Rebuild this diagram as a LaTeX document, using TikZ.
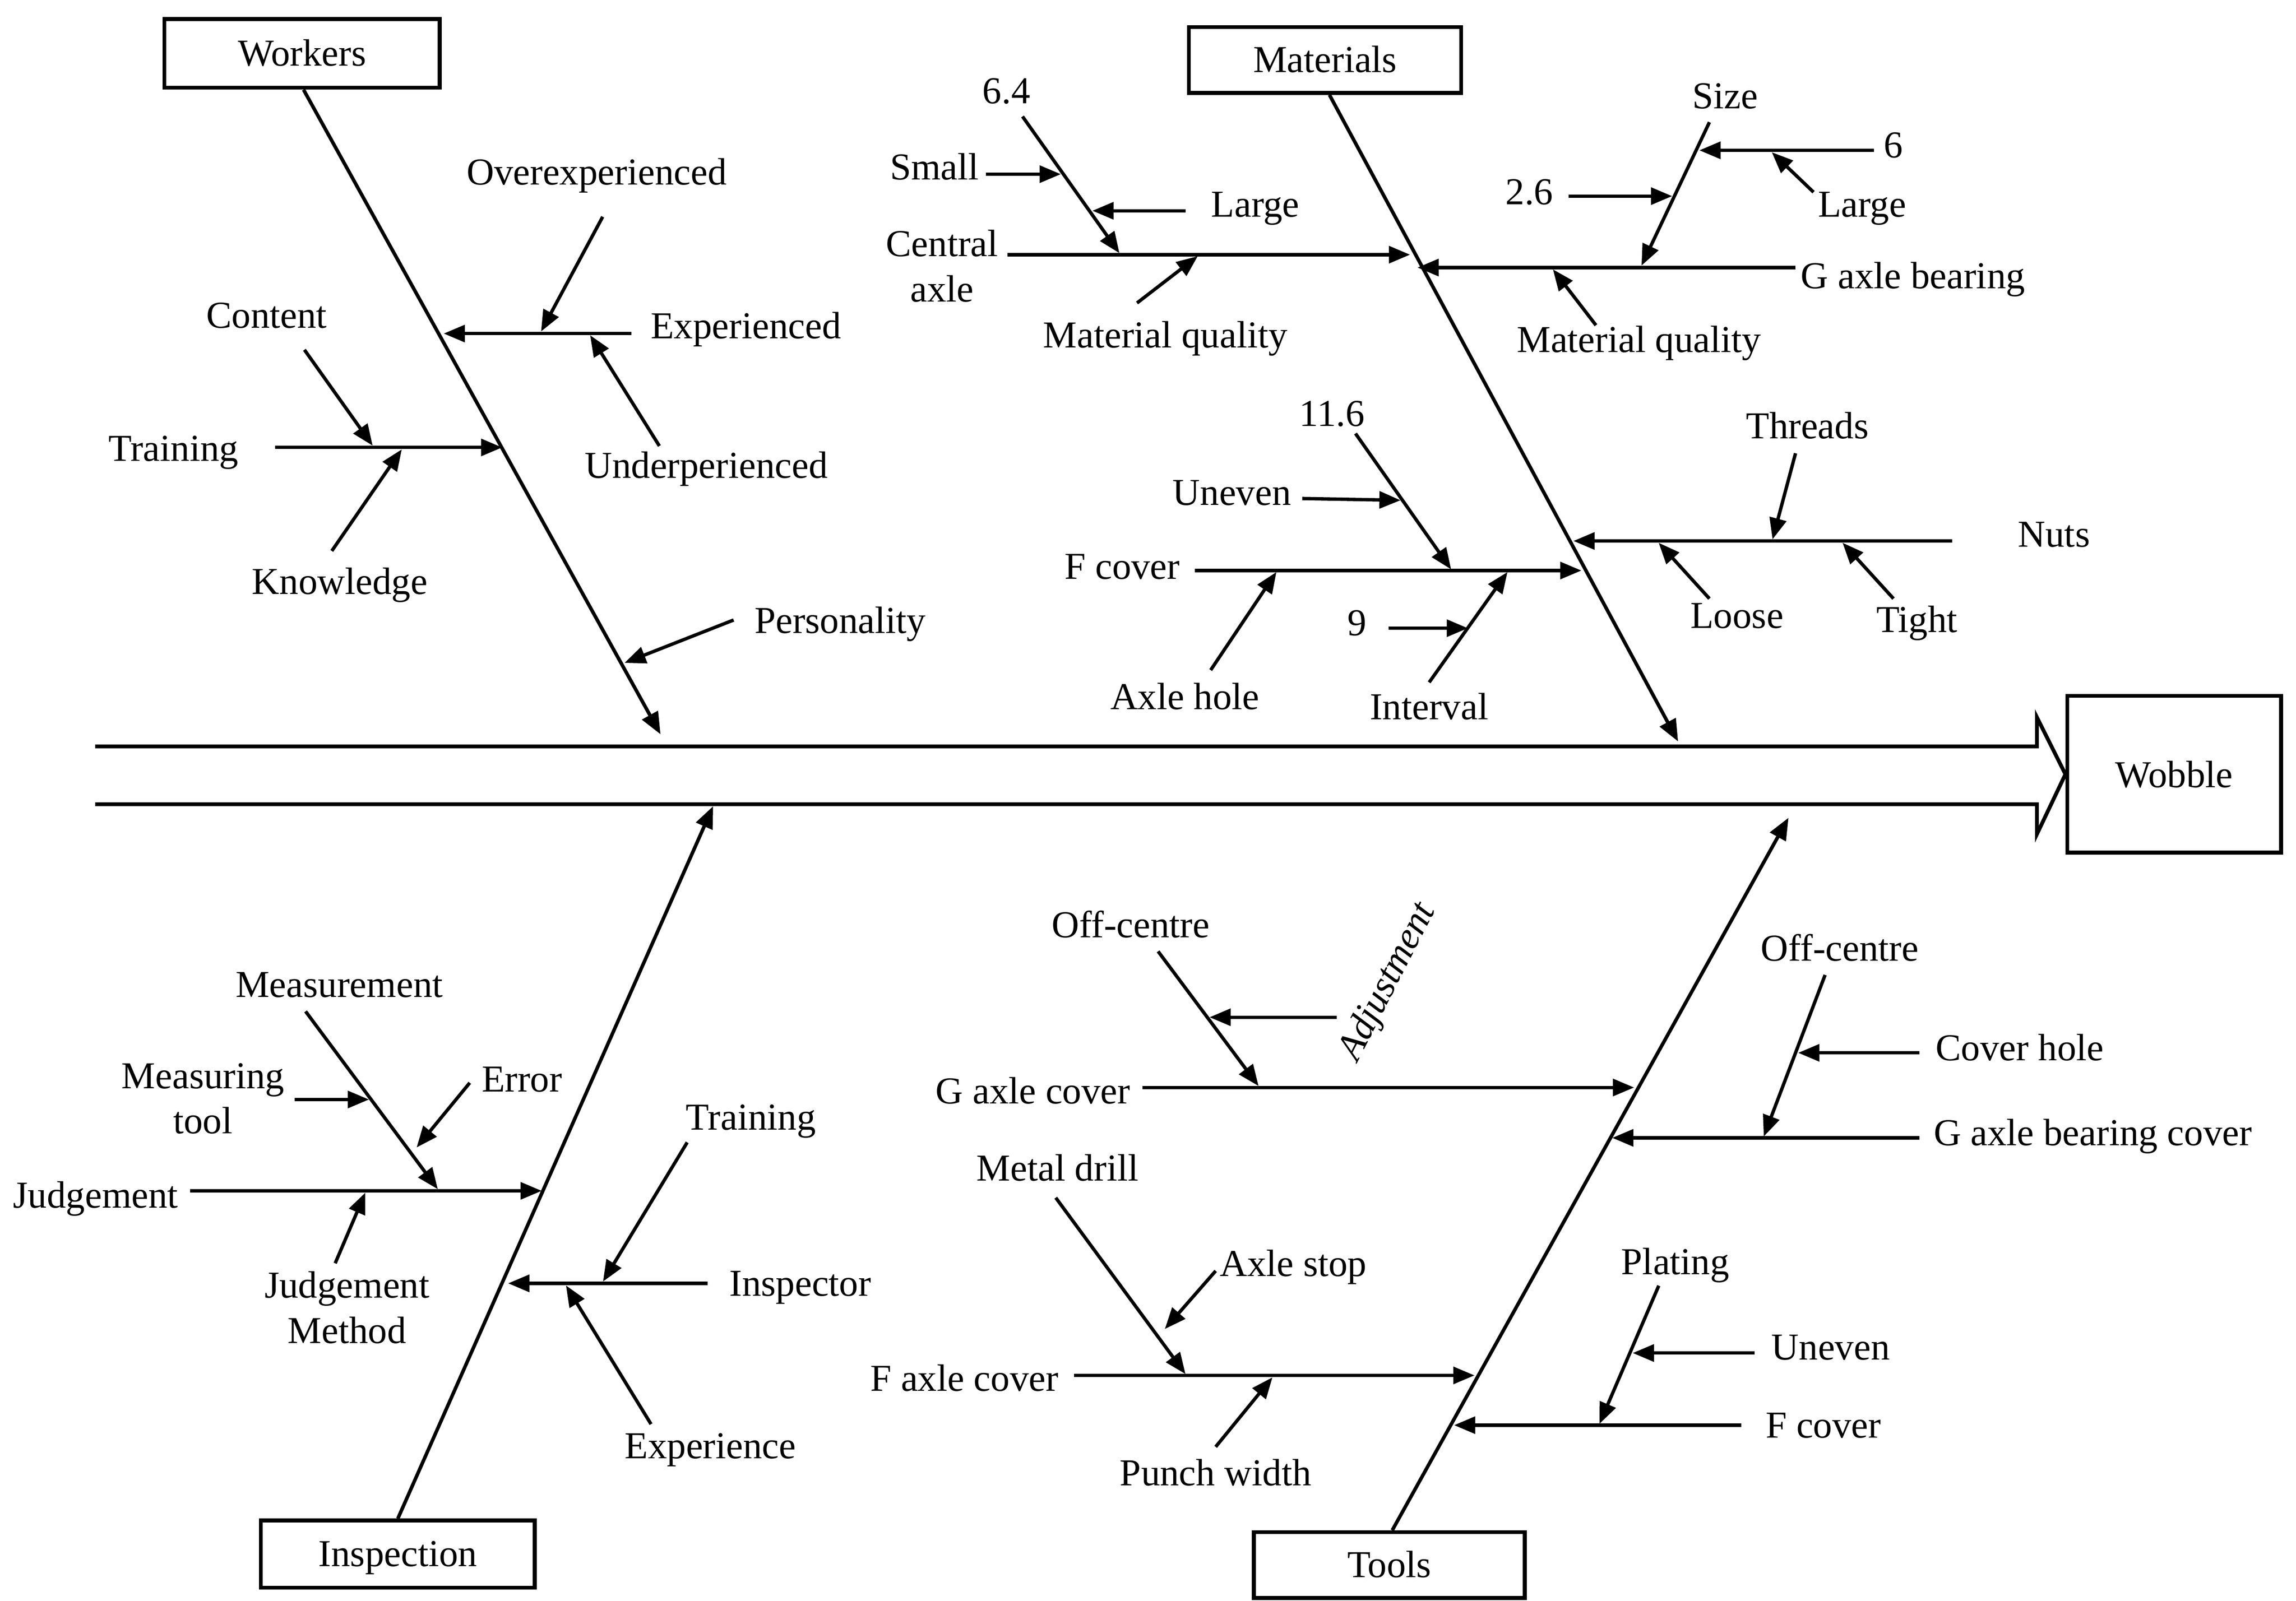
\documentclass[tikz,border=0pt]{standalone}
\usepackage{fontspec}
\setmainfont{Liberation Serif}
\usetikzlibrary{arrows.meta,calc}
\begin{document}
\begin{tikzpicture}[x=1pt,y=-1pt,
  every node/.style={font=\fontsize{26}{31}\selectfont},
  lbl/.style={inner sep=0pt, text height=17pt, text depth=0pt},
  lbltwo/.style={inner sep=0pt, align=center},
  catbox/.style={draw, line width=2.6pt, inner sep=0pt, text height=17pt, text depth=0pt},
  bone/.style={line width=2.4pt, -{Triangle[length=15pt,width=12pt]}},
  arr/.style={line width=2.3pt, -{Triangle[length=14.5pt,width=11.5pt]}},
  spine/.style={line width=2.6pt, line join=miter}
]
\useasboundingbox (0,0) rectangle (1568,1093.7);

% ---------------- effect and spine ----------------
\node[draw, line width=2.6pt, minimum width=146pt, minimum height=107pt, inner sep=0pt] (wobble) at (1484.8,529) {Wobble};
\coordinate (spineTop) at (65,510);
\coordinate (spineBot) at (65,549.5);
\draw[spine] (spineTop) -- (1391,510) -- (1391,490) -- (wobble.west) -- (1391,570) -- (1391,549.5) -- (spineBot);

% ---------------- Workers ----------------
\node[catbox, minimum width=188pt, minimum height=47pt] (workers) at (206.3,36.5) {Workers};
\coordinate (wEnd) at (451.1,501.7);
\draw[bone] ([xshift=1pt]workers.south) -- (wEnd);
\coordinate (wExp) at (303,227.9);
\coordinate (wTrain) at (343,305.7);
\coordinate (wPers) at (426.5,452.9);
\coordinate (wExpA) at (369.5,226.5);
\coordinate (wExpB) at (403,229);
\coordinate (wTrA) at (254.5,304.5);
\coordinate (wTrB) at (274.4,307);

\node[lbl] (overexp) at (407.5,117.8) {Overexperienced};
\node[lbl] (exper) at (509.4,222.9) {Experienced};
\node[lbl] (underexp) at (482.3,318.2) {Underperienced};
\node[lbl] (content) at (182.1,215.5) {Content};
\node[lbl] (wtraining) at (118.5,306.4) {Training};
\node[lbl] (knowledge) at (232,397.3) {Knowledge};
\node[lbl] (personality) at (573.8,424.2) {Personality};

\draw[arr] ([shift={(-78.2,5)}]exper.center) -- (wExp);
\draw[arr] ([shift={(4.1,30.3)}]overexp.center) -- (wExpA);
\draw[arr] ([shift={(-32,-13.5)}]underexp.center) -- (wExpB);
\draw[arr] ([shift={(69.4,-0.7)}]wtraining.center) -- (wTrain);
\draw[arr] ([shift={(25.8,23.5)}]content.center) -- (wTrA);
\draw[arr] ([shift={(-5.4,-20.9)}]knowledge.center) -- (wTrB);
\draw[arr] ([shift={(-72.8,-0.6)}]personality.center) -- (wPers);

% ---------------- Materials ----------------
\node[catbox, minimum width=186pt, minimum height=45pt] (materials) at (904.9,41) {Materials};
\coordinate (mEnd) at (1146,506.6);
\draw[bone] ([xshift=3pt]materials.south) -- (mEnd);
\coordinate (mCA) at (963,174);
\coordinate (mGB) at (968,182.8);
\coordinate (mFC) at (1080,389.8);
\coordinate (mNuts) at (1074.5,369.6);

% left upper: Central axle
\node[lbltwo] (central) at (643.4,181.8) {Central\\axle};
\node[lbl] (n64) at (687.3,62.3) {6.4};
\node[lbl] (small) at (638.1,114.4) {Small};
\node[lbl] (largeL) at (857.3,139.7) {Large};
\node[lbl] (mqL) at (795.8,228.9) {Material quality};
\coordinate (caSize) at (764.5,173);
\coordinate (caMQ) at (818,175);
\coordinate (szSmall) at (724.5,119);
\coordinate (szLarge) at (746,144);
\draw[arr] ([shift={(44.6,-7.8)}]central.center) -- (mCA);
\draw[arr] ([shift={(11,17.3)}]n64.center) -- (caSize);
\draw[arr] ([shift={(35.1,4.6)}]small.center) -- (szSmall);
\draw[arr] ([shift={(-47.7,4.3)}]largeL.center) -- (szLarge);
\draw[arr] ([shift={(-19.3,-21.9)}]mqL.center) -- (caMQ);

% right upper: G axle bearing
\node[lbl] (gab) at (1306.4,188.5) {G axle bearing};
\node[lbl] (size) at (1178.1,65.6) {Size};
\node[lbl] (six) at (1293.1,99.3) {6};
\node[lbl] (largeR) at (1271.7,139.7) {Large};
\node[lbl] (twosix) at (1044.4,131.3) {2.6};
\node[lbl] (mqR) at (1119.3,232.3) {Material quality};
\coordinate (gbSize) at (1121,181.5);
\coordinate (gbMQ) at (1060.5,184);
\coordinate (szSix) at (1160.5,102.7);
\coordinate (sixLarge) at (1210,104);
\coordinate (szTwoSix) at (1142,134);
\draw[arr] ([shift={(-80.2,-5.7)}]gab.center) -- (mGB);
\draw[arr] ([shift={(-10.7,17.9)}]size.center) -- (gbSize);
\draw[arr] ([shift={(-13.4,3.4)}]six.center) -- (szSix);
\draw[arr] ([shift={(-33.2,-8.4)}]largeR.center) -- (sixLarge);
\draw[arr] ([shift={(26.8,2.7)}]twosix.center) -- (szTwoSix);
\draw[arr] ([shift={(-29.4,-10.1)}]mqR.center) -- (gbMQ);

% left lower: F cover
\node[lbl] (fcoverM) at (766.4,387.1) {F cover};
\node[lbl] (n116) at (909.7,282.7) {11.6};
\node[lbl] (unevenM) at (841.3,336.6) {Uneven};
\node[lbl] (axlehole) at (809.2,476.3) {Axle hole};
\node[lbl] (nine) at (926.8,425.8) {9};
\node[lbl] (interval) at (976,483) {Interval};
\coordinate (fcA) at (991,389);
\coordinate (fcHole) at (871.7,390.8);
\coordinate (fcInt) at (1029.5,390.8);
\coordinate (ttUneven) at (956.5,341.8);
\coordinate (intNine) at (1002.5,429.2);
\draw[arr] ([shift={(49.7,2.7)}]fcoverM.center) -- (mFC);
\draw[arr] ([shift={(16,13.5)}]n116.center) -- (fcA);
\draw[arr] ([shift={(48.1,4)}]unevenM.center) -- (ttUneven);
\draw[arr] ([shift={(17.6,-18.5)}]axlehole.center) -- (fcHole);
\draw[arr] ([shift={(0,-16.8)}]interval.center) -- (fcInt);
\draw[arr] ([shift={(21.4,3.4)}]nine.center) -- (intNine);

% right lower: Nuts
\node[lbl] (nuts) at (1402.7,365.2) {Nuts};
\node[lbl] (threads) at (1234.3,291.2) {Threads};
\node[lbl] (loose) at (1186.2,420.8) {Loose};
\node[lbl] (tight) at (1309.1,423.4) {Tight};
\coordinate (nuThreads) at (1210.5,368.5);
\coordinate (nuLoose) at (1132.7,370.8);
\coordinate (nuTight) at (1258.3,370.8);
\draw[arr] ([shift={(-69.5,4.4)}]nuts.center) -- (mNuts);
\draw[arr] ([shift={(-8.1,18.5)}]threads.center) -- (nuThreads);
\draw[arr] ([shift={(-18.8,-11.8)}]loose.center) -- (nuLoose);
\draw[arr] ([shift={(-16,-14.4)}]tight.center) -- (nuTight);

% ---------------- Inspection ----------------
\node[catbox, minimum width=187pt, minimum height=46pt] (inspection) at (271.7,1061.8) {Inspection};
\coordinate (iEnd) at (487,550.8);
\draw[bone] (inspection.north) -- (iEnd);
\coordinate (iJ) at (370,813.6);
\coordinate (iIns) at (347,876.8);

\node[lbl] (judgement) at (65.3,816.7) {Judgement};
\node[lbl] (measurement) at (231.7,672.7) {Measurement};
\node[lbltwo] (meastool) at (138.6,750.6) {Measuring\\tool};
\node[lbl] (error) at (356.4,737.5) {Error};
\node[lbltwo] (jmethod) at (237,893.2) {Judgement\\Method};
\node[lbl] (inspector) at (546.5,876.8) {Inspector};
\node[lbl] (itraining) at (512.8,763.4) {Training};
\node[lbl] (experience) at (485.1,988) {Experience};
\coordinate (jMeas) at (299,812.5);
\coordinate (msTool) at (252,751.2);
\coordinate (msErr) at (284.5,784);
\coordinate (jMeth) at (249.5,814.8);
\coordinate (inTrain) at (411.8,875.6);
\coordinate (inExp) at (386.5,878.2);
\draw[arr] ([shift={(64.6,-3.1)}]judgement.center) -- (iJ);
\draw[arr] ([shift={(-23,18.3)}]measurement.center) -- (jMeas);
\draw[arr] ([shift={(62.6,0.6)}]meastool.center) -- (msTool);
\draw[arr] ([shift={(-35.6,2.3)}]error.center) -- (msErr);
\draw[arr] ([shift={(-8.1,-30.1)}]jmethod.center) -- (jMeth);
\draw[arr] ([shift={(-63.4,0)}]inspector.center) -- (iIns);
\draw[arr] ([shift={(-43.5,17.1)}]itraining.center) -- (inTrain);
\draw[arr] ([shift={(-40.5,-15)}]experience.center) -- (inExp);

% ---------------- Tools ----------------
\node[catbox, minimum width=185pt, minimum height=45pt] (tools) at (948.8,1069.3) {Tools};
\coordinate (tEnd) at (1221.4,558.7);
\draw[bone] ([xshift=2pt]tools.north) -- (tEnd);
\coordinate (tGA) at (1116,743);
\coordinate (tGB) at (1101,777.4);
\coordinate (tFA) at (1007,939.7);
\coordinate (tFC) at (993,973.7);

% G axle cover
\node[lbl] (gac) at (705.4,745.4) {G axle cover};
\node[lbl] (offL) at (772.2,632) {Off-centre};
\node[lbl, rotate=63, font=\fontsize{26}{31}\selectfont\itshape] (adjust) at (946,670) {Adjustment};
\coordinate (gaOff) at (859.5,742);
\coordinate (offAdj) at (826,695);
\draw[arr] ([shift={(74.9,-2.4)}]gac.center) -- (tGA);
\draw[arr] ([shift={(18.7,18)}]offL.center) -- (gaOff);
\draw[arr] ([shift={(-33,25)}]adjust.center) -- (offAdj);

% F axle cover
\node[lbl] (fac) at (658.6,941.7) {F axle cover};
\node[lbl] (metaldrill) at (722.2,798.3) {Metal drill};
\node[lbl] (axlestop) at (883.2,863.5) {Axle stop};
\node[lbl] (punch) at (830.2,1006.6) {Punch width};
\coordinate (faDrill) at (809.6,938.8);
\coordinate (drStop) at (795.5,908);
\coordinate (faPunch) at (869,941);
\draw[arr] ([shift={(74.9,-2)}]fac.center) -- (tFA);
\draw[arr] ([shift={(-1.2,20)}]metaldrill.center) -- (faDrill);
\draw[arr] ([shift={(-53,4.8)}]axlestop.center) -- (drStop);
\draw[arr] ([shift={(0,-18.1)}]punch.center) -- (faPunch);

% G axle bearing cover
\node[lbl] (gabc) at (1429.2,774.2) {G axle bearing cover};
\node[lbl] (offR) at (1256.4,648) {Off-centre};
\node[lbl] (coverhole) at (1379.3,716.1) {Cover hole};
\coordinate (gbOff) at (1204.5,776.5);
\coordinate (offHole) at (1228,719.3);
\draw[arr] ([shift={(-118.5,3.2)}]gabc.center) -- (tGB);
\draw[arr] ([shift={(-10,18.1)}]offR.center) -- (gbOff);
\draw[arr] ([shift={(-68.6,3.2)}]coverhole.center) -- (offHole);

% F cover
\node[lbl] (fcoverT) at (1245.2,973.7) {F cover};
\node[lbl] (plating) at (1144.1,862.3) {Plating};
\node[lbl] (unevenT) at (1250.2,920.4) {Uneven};
\coordinate (fcPlat) at (1092.3,972.8);
\coordinate (plUneven) at (1115,924.4);
\draw[arr] ([shift={(-56.2,0)}]fcoverT.center) -- (tFC);
\draw[arr] ([shift={(-11.3,16.1)}]plating.center) -- (fcPlat);
\draw[arr] ([shift={(-51.8,4)}]unevenT.center) -- (plUneven);

\end{tikzpicture}
\end{document}
